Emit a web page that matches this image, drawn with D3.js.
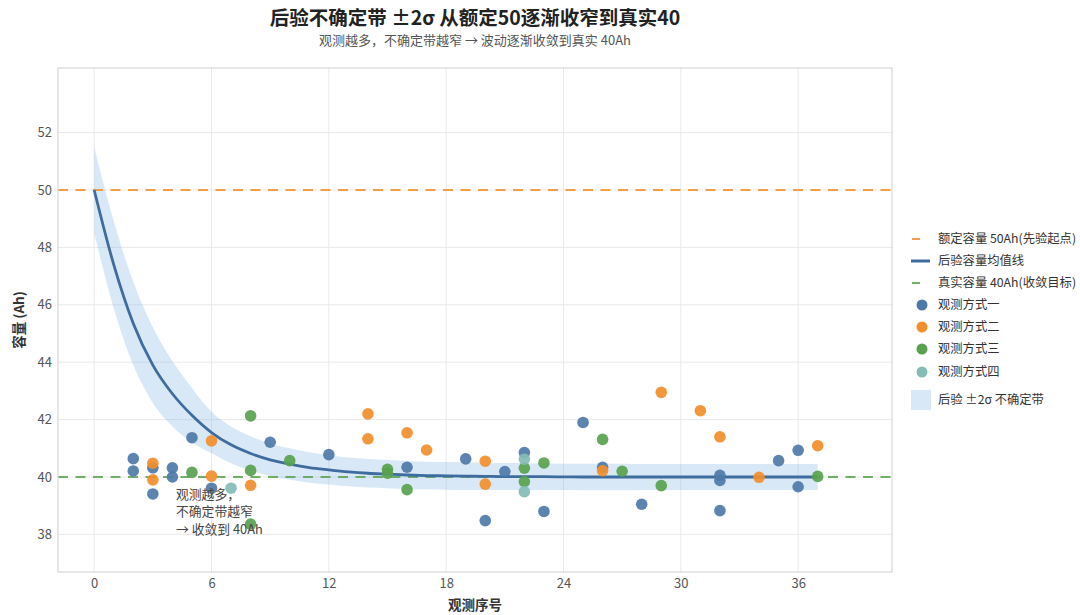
<!DOCTYPE html>
<html><head><meta charset="utf-8">
<script src="https://cdn.jsdelivr.net/npm/d3@7/dist/d3.min.js"></script>
<style>
body{margin:0;background:#fff;}
svg text{font-family:"Noto Sans CJK SC","Noto Sans",sans-serif;}
</style></head>
<body><svg id="c" width="1080" height="615"></svg>
<script>
// ---- data ----
const steps = d3.range(0, 38);
const meanLine = [50,47.4,45.35,43.9,42.9,42.15,41.55,41.12,40.82,40.6,40.45,40.33,40.25,40.18,40.13,40.1,40.07,40.05,40.04,40.03,40.02,40.015,40.01,40.01,40.005,40,40,40,40,40,40,40,40,40,40,40,40,40];
const bandHalf = [1.5,1.52,1.45,1.32,1.14,0.95,0.72,0.64,0.6,0.57,0.55,0.53,0.51,0.5,0.5,0.49,0.49,0.48,0.48,0.48,0.47,0.47,0.47,0.46,0.46,0.46,0.46,0.46,0.45,0.45,0.45,0.45,0.45,0.45,0.45,0.45,0.45,0.45];
const ratedCap = 50, trueCap = 40;

const s1x = [2,2,3,3,4,4,5,6,9,12,16,19,20,21,22,23,25,26,28,32,32,32,35,36,36];
const s1y = [40.64,40.21,40.32,39.41,40.32,40.0,41.37,39.61,41.21,40.78,40.34,40.63,38.48,40.19,40.85,38.8,41.9,40.34,39.05,40.06,39.88,38.83,40.57,40.93,39.66];
const s2x = [3,3,6,6,8,14,14,16,17,20,20,26,29,31,32,34,37];
const s2y = [40.48,39.9,41.26,40.03,39.71,42.2,41.33,41.54,40.94,40.55,39.75,40.22,42.95,42.31,41.4,39.99,41.09];
const s3x = [5,8,8,8,10,15,15,16,22,22,23,26,27,29,37];
const s3y = [40.16,42.13,40.23,38.36,40.57,40.27,40.13,39.56,40.31,39.84,40.49,41.31,40.2,39.7,40.02];
const s4x = [7,22,22];
const s4y = [39.61,40.62,39.49];

const seriesNames = ["观测方式一","观测方式二","观测方式三","观测方式四"];
const xTicks = [0,6,12,18,24,30,36];
const yTicks = [38,40,42,44,46,48,50,52];

const colors = {blue:"#4E79A7", orange:"#F28E2B", green:"#59A14F", teal:"#86BCB6", mean:"#3F6C9E", band:"rgba(140,186,228,0.33)"};

// ---- layout ----
const svg = d3.select("#c");
const L=58, R=892, T=68, B=572;
const x = d3.scaleLinear().domain([-1.85, 40.8]).range([L, R]);
const y = d3.scaleLinear().domain([36.69, 54.25]).range([B, T]);

// grid
const g = svg.append("g");
g.selectAll(".gx").data(xTicks).join("line")
  .attr("x1", d=>x(d)).attr("x2", d=>x(d)).attr("y1", T).attr("y2", B)
  .attr("stroke", "#e9e9e9").attr("stroke-width", 1);
g.selectAll(".gy").data(yTicks).join("line")
  .attr("y1", d=>y(d)).attr("y2", d=>y(d)).attr("x1", L).attr("x2", R)
  .attr("stroke", "#e9e9e9").attr("stroke-width", 1);

// band
const bandData = steps.map((s,i)=>({x:s, lo:meanLine[i]-bandHalf[i], hi:meanLine[i]+bandHalf[i]}));
svg.append("path").datum(bandData)
  .attr("d", d3.area().x(d=>x(d.x)).y0(d=>y(d.lo)).y1(d=>y(d.hi)).curve(d3.curveMonotoneX))
  .attr("fill", colors.band);

// reference lines
svg.append("line").attr("x1", L).attr("x2", R).attr("y1", y(ratedCap)).attr("y2", y(ratedCap))
  .attr("stroke", colors.orange).attr("stroke-opacity", 0.85).attr("stroke-width", 2).attr("stroke-dasharray", "10,7.5");
svg.append("line").attr("x1", L).attr("x2", R).attr("y1", y(trueCap)).attr("y2", y(trueCap))
  .attr("stroke", colors.green).attr("stroke-opacity", 0.85).attr("stroke-width", 2).attr("stroke-dasharray", "10,7.5");

// mean line
svg.append("path").datum(steps.map((s,i)=>({x:s, v:meanLine[i]})))
  .attr("d", d3.line().x(d=>x(d.x)).y(d=>y(d.v)).curve(d3.curveMonotoneX))
  .attr("fill", "none").attr("stroke", colors.mean).attr("stroke-width", 2.8);

// points
const series = [[s1x,s1y,colors.blue],[s2x,s2y,colors.orange],[s3x,s3y,colors.green],[s4x,s4y,colors.teal]];
series.forEach(([xs,ys,c])=>{
  svg.append("g").selectAll("circle").data(xs.map((v,i)=>[v, ys[i]])).join("circle")
    .attr("cx", d=>x(d[0])).attr("cy", d=>y(d[1])).attr("r", 5.8)
    .attr("fill", c).attr("fill-opacity", 0.92);
});

// frame
svg.append("rect").attr("x", L).attr("y", T).attr("width", R-L).attr("height", B-T)
  .attr("fill", "none").attr("stroke", "#cfcfcf").attr("stroke-width", 1);

// axes
const xAxis = svg.append("g").attr("transform", `translate(0,${B})`)
  .call(d3.axisBottom(x).tickValues(xTicks).tickSize(0).tickPadding(7));
const yAxis = svg.append("g").attr("transform", `translate(${L},0)`)
  .call(d3.axisLeft(y).tickValues(yTicks).tickSize(0).tickPadding(6));
[xAxis, yAxis].forEach(a=>{
  a.select(".domain").remove();
  a.selectAll("text").attr("fill", "#555").attr("font-size", 13)
   .attr("font-family", "'Noto Sans CJK SC','Noto Sans',sans-serif");
});

// titles
const cx = (L+R)/2;
svg.append("text").attr("x", cx).attr("y", 25).attr("text-anchor", "middle")
  .attr("font-size", 19.5).attr("font-weight", "bold").attr("fill", "#222")
  .text("后验不确定带 ±2σ 从额定50逐渐收窄到真实40");
svg.append("text").attr("x", cx).attr("y", 45).attr("text-anchor", "middle")
  .attr("font-size", 13).attr("fill", "#555")
  .text("观测越多，不确定带越窄 → 波动逐渐收敛到真实 40Ah");
svg.append("text").attr("x", cx).attr("y", 610).attr("text-anchor", "middle")
  .attr("font-size", 13.5).attr("font-weight", "bold").attr("fill", "#333").text("观测序号");
svg.append("text").attr("transform", `translate(24,${(T+B)/2}) rotate(-90)`).attr("text-anchor", "middle")
  .attr("font-size", 13.5).attr("font-weight", "bold").attr("fill", "#333").text("容量 (Ah)");

// annotation
const ann = ["观测越多，","不确定带越窄","→ 收敛到 40Ah"];
svg.append("g").selectAll("text").data(ann).join("text")
  .attr("x", 176).attr("y", (d,i)=>498.5 + i*17.5)
  .attr("font-size", 12.8).attr("fill", "#444").text(d=>d);

// legend
const lg = svg.append("g");
const lx = 911, tx = 938;
const rows = [
  {t:"额定容量 50Ah(先验起点)", k:"dash", c:colors.orange, y:239},
  {t:"后验容量均值线", k:"line", c:colors.mean, y:261},
  {t:"真实容量 40Ah(收敛目标)", k:"dash", c:colors.green, y:283},
  {t:seriesNames[0], k:"dot", c:colors.blue, y:305},
  {t:seriesNames[1], k:"dot", c:colors.orange, y:327},
  {t:seriesNames[2], k:"dot", c:colors.green, y:349},
  {t:seriesNames[3], k:"dot", c:colors.teal, y:372},
  {t:"后验 ±2σ 不确定带", k:"band", c:colors.band, y:400}
];
rows.forEach(r=>{
  if(r.k==="dash") lg.append("line").attr("x1", lx+1).attr("x2", lx+9).attr("y1", r.y).attr("y2", r.y).attr("stroke", r.c).attr("stroke-opacity", 0.85).attr("stroke-width", 2);
  if(r.k==="line") lg.append("line").attr("x1", lx).attr("x2", lx+19).attr("y1", r.y).attr("y2", r.y).attr("stroke", r.c).attr("stroke-width", 3);
  if(r.k==="dot") lg.append("circle").attr("cx", lx+11).attr("cy", r.y).attr("r", 5.5).attr("fill", r.c);
  if(r.k==="band") lg.append("rect").attr("x", lx).attr("y", r.y-10).attr("width", 20).attr("height", 20).attr("fill", r.c);
  lg.append("text").attr("x", tx).attr("y", r.y+4).attr("font-size", 12.3).attr("fill", "#333").text(r.t);
});
</script></body></html>
